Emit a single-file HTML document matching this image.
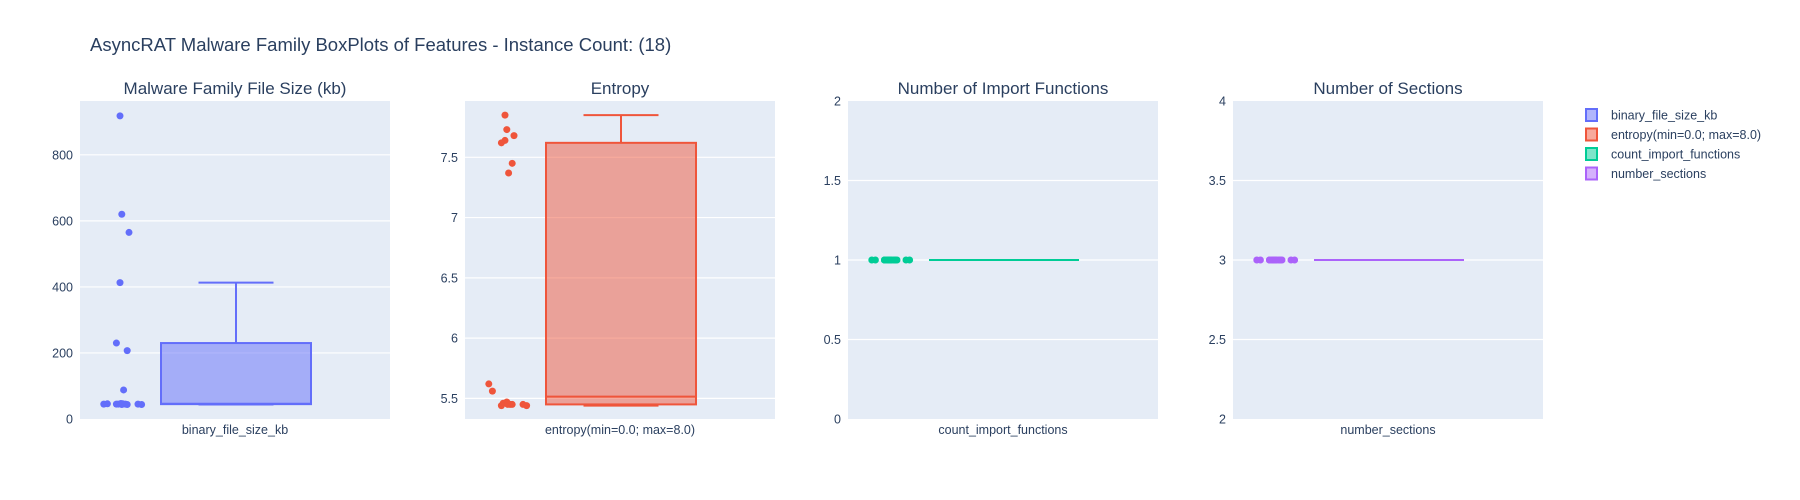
<!DOCTYPE html>
<html><head><meta charset="utf-8"><style>
body{margin:0;background:#fff;}
svg{display:block;font-family:"Liberation Sans","DejaVu Sans",sans-serif;}
</style></head><body>
<svg id="chart" width="1800" height="500">
<text x="90" y="51" font-size="18.5" fill="#2a3f5f">AsyncRAT Malware Family BoxPlots of Features - Instance Count: (18)</text>
</svg>
<script>
const panelTitles=["Malware Family File Size (kb)","Entropy","Number of Import Functions","Number of Sections"];
const seriesNames=["binary_file_size_kb","entropy(min=0.0; max=8.0)","count_import_functions","number_sections"];
const colors=["#636efa","#ef553b","#00cc96","#ab63fa"];
const fills=["rgba(99,110,250,0.5)","rgba(239,85,59,0.5)","rgba(0,204,150,0.5)","rgba(171,99,250,0.5)"];
const fileSize=[918,620,565,413,230,207,88,45,46,44,45,47,45,44,46,45,44,45];
const entropy=[7.85,7.73,7.68,7.64,7.62,7.45,7.37,5.62,5.56,5.47,5.46,5.46,5.45,5.45,5.45,5.45,5.44,5.44];
const importFns=[1,1,1,1,1,1,1,1,1,1,1,1,1,1,1,1,1,1];
const sections=[3,3,3,3,3,3,3,3,3,3,3,3,3,3,3,3,3,3];
const yRanges=[[0,963],[5.329,7.967],[0,2],[2,4]];
const yTicks=[[0,200,400,600,800],[5.5,6,6.5,7,7.5],[0,0.5,1,1.5,2],[2,2.5,3,3.5,4]];
const yTickLabels=[["0","200","400","600","800"],["5.5","6","6.5","7","7.5"],["0","0.5","1","1.5","2"],["2","2.5","3","3.5","4"]];
const jitter=[0.0,0.1,0.5,0.0,-0.2,0.4,0.2,-0.9,-0.7,0.1,-0.1,0.05,0.3,0.4,0.15,1.0,1.2,-0.2];
const allData=[fileSize,entropy,importFns,sections];
const panelX=[80,465,848,1233],PW=310,PT=101,PB=419;
const svg=document.getElementById('chart');
const NS='http://www.w3.org/2000/svg';
function mk(tag,attrs,parent){const e=document.createElementNS(NS,tag);for(const k in attrs)e.setAttribute(k,attrs[k]);(parent||svg).appendChild(e);return e;}
function quant(s,p){const pos=(s.length-1)*p;if(p===0.5){const lo=Math.floor(pos),hi=Math.ceil(pos);return (s[lo]+s[hi])/2;}return s[Math.round(pos)];}
for(let i=0;i<4;i++){
  const x0=panelX[i],[ymin,ymax]=yRanges[i];
  const ys=v=>PB-(v-ymin)/(ymax-ymin)*(PB-PT);
  const g=mk('g',{});
  
  
  const bg=mk('rect',{x:x0,y:PT,width:PW,height:PB-PT,fill:'#e5ecf6'},g);
  
  
  yTicks[i].forEach((t,j)=>{
    const y=ys(t);
    if(t>ymin&&t<ymax){const gl=mk('line',{x1:x0,x2:x0+PW,y1:y,y2:y,stroke:'#fff','stroke-width':1.2},g);
      }
    const tl=mk('text',{x:x0-7,y:y+4.5,'text-anchor':'end','font-size':12.5,fill:'#2a3f5f'},g);
    tl.textContent=yTickLabels[i][j];
    
  });
  const tt=mk('text',{x:x0+PW/2,y:94,'text-anchor':'middle','font-size':17,fill:'#2a3f5f'},g);
  tt.textContent=panelTitles[i];
  
  const xl=mk('text',{x:x0+PW/2,y:434,'text-anchor':'middle','font-size':12.5,fill:'#2a3f5f'},g);
  xl.textContent=seriesNames[i];
  
  const d=allData[i],s=[...d].sort((a,b)=>a-b);
  const q1=quant(s,0.25),med=quant(s,0.5),q3=quant(s,0.75),iqr=q3-q1;
  const lo=s.find(v=>v>=q1-1.5*iqr),hi=[...s].reverse().find(v=>v<=q3+1.5*iqr);
  const cx=x0+156,bw=150,bl=cx-bw/2;
  const wl=mk('line',{x1:cx,x2:cx,y1:ys(hi),y2:ys(q3),stroke:colors[i],'stroke-width':2},g);
  
  const wl2=mk('line',{x1:cx,x2:cx,y1:ys(q1),y2:ys(lo),stroke:colors[i],'stroke-width':2},g);
  
  [hi,lo].forEach(v=>{const c=mk('line',{x1:cx-bw/4,x2:cx+bw/4,y1:ys(v),y2:ys(v),stroke:colors[i],'stroke-width':2},g);
    });
  const box=mk('rect',{x:bl,y:ys(q3),width:bw,height:Math.max(0,ys(q1)-ys(q3)),fill:fills[i],stroke:colors[i],'stroke-width':2},g);
  
  const ml=mk('line',{x1:bl,x2:bl+bw,y1:ys(med),y2:ys(med),stroke:colors[i],'stroke-width':2},g);
  
  d.forEach((v,k)=>{
    const p=mk('circle',{cx:x0+40+jitter[k]*18,cy:ys(v),r:3.5,fill:colors[i]},g);
    
  });
}
const lg=mk('g',{});

seriesNames.forEach((n,i)=>{
  const y=115+i*19.5;
  const r=mk('rect',{x:1586,y:y-6,width:11,height:12,fill:fills[i],stroke:colors[i],'stroke-width':2},lg);
  
  const t=mk('text',{x:1611,y:y+4.5,'font-size':12.5,fill:'#2a3f5f'},lg);
  t.textContent=n;
  
});
</script>
</body></html>
